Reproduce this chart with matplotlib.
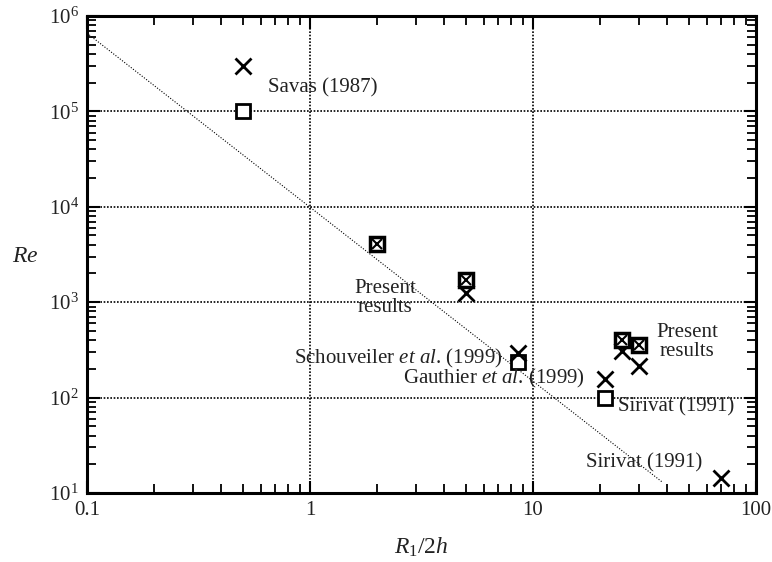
import numpy as np
import matplotlib
matplotlib.use("Agg")
from matplotlib import pyplot as plt

plt.rcParams['font.family'] = ['Liberation Serif', 'DejaVu Serif']
plt.rcParams['mathtext.fontset'] = 'custom'
plt.rcParams['mathtext.rm'] = 'Liberation Serif'
plt.rcParams['mathtext.it'] = 'Liberation Serif:italic'

# Daten
savas_x = [0.5]
savas_cross = [3.0e5]
savas_square = [1.0e5]

present_x = [2.0, 5.0, 25.0, 30.0]
present_boxed = [4.1e3, 1.7e3, 400.0, 355.0]
present_cross_x = [5.0, 25.0, 30.0]
present_cross = [1.25e3, 310.0, 215.0]

schouv_x = [8.6]
schouv_cross = [295.0]
schouv_square = [235.0]

gauthier_x = [21.0]
gauthier_cross = [155.0]
sirivat_sq_x = [21.0]
sirivat_square = [100.0]

sirivat_x = [70.0]
sirivat_cross = [14.5]

line_x = [0.1, 38.0]
line_y = [6.6e5, 13.0]

xticks = [0.1, 1, 10, 100]
xticklabels = ['0.1', '1', '10', '100']
yticks = [1e1, 1e2, 1e3, 1e4, 1e5, 1e6]
yticklabels = ['$10^{%d}$' % k for k in range(1, 7)]

fig = plt.figure(figsize=(7.72, 5.62), dpi=100)
ax = fig.add_axes([0.1127, 0.1228, 0.8666, 0.8488])
ax.set_xscale('log')
ax.set_yscale('log')
ax.set_xlim(0.1, 100)
ax.set_ylim(10, 1e6)

ax.grid(True, which='major', color='black', linestyle=(0, (1, 1)), linewidth=1.2)
ax.plot(line_x, line_y, color='black', linestyle=(0, (1, 1.5)), linewidth=0.8)

sq = dict(marker='s', markersize=10, markerfacecolor='white', markeredgecolor='black',
          markeredgewidth=2, linestyle='none')
cr = dict(marker='x', markersize=12, color='black', markeredgewidth=2, linestyle='none')

ax.plot(savas_x, savas_cross, **cr)
ax.plot(savas_x, savas_square, **sq)
ax.plot(schouv_x, schouv_square, **sq)
ax.plot(schouv_x, schouv_cross, **cr)
ax.plot(sirivat_sq_x, sirivat_square, **sq)
ax.plot(gauthier_x, gauthier_cross, **cr)
ax.plot(sirivat_x, sirivat_cross, **cr)
ax.plot(present_cross_x, present_cross, **cr)
# Quadrat mit Kreuz
ax.plot(present_x, present_boxed, marker='s', markersize=10.5, markerfacecolor='white',
        markeredgecolor='black', markeredgewidth=2.5, linestyle='none')
ax.plot(present_x, present_boxed, marker='x', markersize=6.5, color='black',
        markeredgewidth=1.5, linestyle='none')

tc = '#222222'
fs = 15
ax.text(0.65, 1.76e5, 'Savas (1987)', fontsize=fs, color=tc, ha='left', va='center')
ax.text(2.17, 1.1e3, 'Present\nresults', fontsize=fs, color=tc, ha='center', va='center',
        linespacing=1.0)
ax.text(49, 380, 'Present\nresults', fontsize=fs, color=tc, ha='center', va='center',
        linespacing=1.0)
ax.text(7.3, 260, r'Schouveiler $et$ $al$. (1999)', fontsize=fs, color=tc, ha='right', va='center')
ax.text(17.1, 157, r'Gauthier $et$ $al$. (1999)', fontsize=fs, color=tc, ha='right', va='center')
ax.text(24.0, 80, 'Sirivat (1991)', fontsize=fs, color=tc, ha='left', va='center')
ax.text(17.3, 20.6, 'Sirivat (1991)', fontsize=fs, color=tc, ha='left', va='center')

ax.set_xticks(xticks)
ax.set_xticklabels(xticklabels)
ax.set_yticks(yticks)
ax.set_yticklabels(yticklabels)
ax.tick_params(which='both', direction='in', top=True, right=True, labelsize=fs,
               labelcolor=tc)
ax.tick_params(which='major', length=9, width=1.5, pad=6)
ax.tick_params(which='minor', length=6.5, width=1.3)
for s in ax.spines.values():
    s.set_linewidth(2.2)

ax.set_ylabel('$Re$', fontsize=17, rotation=0, ha='center', va='center', color=tc)
ax.yaxis.set_label_coords(-0.093, 0.495)
ax.set_xlabel('$R_1/2h$', fontsize=17, color=tc, va='center')
ax.xaxis.set_label_coords(0.5, -0.113)

plt.savefig('out.png', dpi=100)
